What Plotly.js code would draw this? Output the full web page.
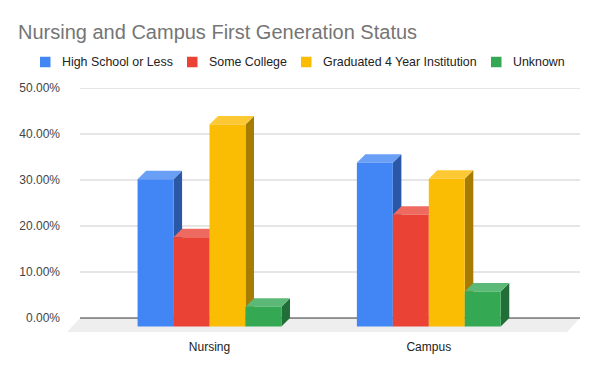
<!DOCTYPE html>
<html>
<head>
<meta charset="utf-8">
<script src="https://cdn.plot.ly/plotly-3.0.1.min.js"></script>
<style>html,body{margin:0;padding:0;background:#fff;}#chart{width:600px;height:371px;}</style>
</head>
<body>
<div id="chart"></div>
<script>
// ---- data ----
const categories = ['Nursing', 'Campus'];
const seriesNames = ['High School or Less', 'Some College', 'Graduated 4 Year Institution', 'Unknown'];
const highSchoolOrLess = [32.0, 35.6];
const someCollege = [19.4, 24.3];
const graduated4Year = [43.9, 32.1];
const unknown = [4.3, 7.6];
const yTickVals = [0, 10, 20, 30, 40, 50];
const yTickText = ['0.00%', '10.00%', '20.00%', '30.00%', '40.00%', '50.00%'];

// ---- styles ----
const frontColors = ['#4285f4', '#ea4335', '#fbbc04', '#34a853'];
const topColors   = ['#6a9ff6', '#ee6a60', '#fcc934', '#5cb876'];
const sideColors  = ['#2b58a6', '#a5302a', '#a67c03', '#226e39'];

const seriesValues = [highSchoolOrLess, someCollege, graduated4Year, unknown];

const W = 600, H = 371;
const M = {l: 67, r: 20, t: 88, b: 39};
const plotW = W - M.l - M.r, plotH = H - M.t - M.b;
const pxToPaperX = px => (px - M.l) / plotW;
const pxToPaperY = py => (H - M.b - py) / plotH;

const barW = 0.164;      // width of one bar face (x units)
const depthX = 0.039;    // 3D depth in x units
const depthY = 1.85;     // 3D depth in y units
const xMin = -0.6498, xMax = 1.6895;
const yMin = -3.04, yMax = 50;
const floorShift = 0.0593;
const backLeft = xMin + floorShift;

const traces = [];
function poly(xs, ys, color, name) {
  traces.push({type: 'scatter', mode: 'lines', x: xs, y: ys, fill: 'toself', name: name,
    fillcolor: color, line: {width: 0, color: color}, showlegend: false, hoverinfo: 'skip'});
}

categories.forEach((c, g) => {
  seriesValues.forEach((vals, s) => {
    const v = vals[g];
    const x0 = g - 2 * barW + s * barW;
    const x1 = x0 + barW;
    const yb = -depthY, yt = v - depthY;
    poly([x1, x1 + depthX, x1 + depthX, x1, x1], [yb, 0, v, yt, yb], sideColors[s], seriesNames[s]);
    poly([x0, x1, x1 + depthX, x0 + depthX, x0], [yt, yt, v, v, yt], topColors[s], seriesNames[s]);
    poly([x0, x1, x1, x0, x0], [yb, yb, yt, yt, yb], frontColors[s], seriesNames[s]);
  });
});

const shapes = [];
// floor
shapes.push({type: 'path', xref: 'x', yref: 'y', layer: 'below',
  path: `M${backLeft},0 L${xMax},0 L${xMax - floorShift},${yMin} L${backLeft - floorShift},${yMin} Z`,
  fillcolor: '#eeeeee', line: {width: 0}});
// gridlines on back wall
yTickVals.forEach(t => {
  shapes.push({type: 'line', xref: 'x', yref: 'y', layer: 'below',
    x0: backLeft, x1: xMax, y0: t, y1: t,
    line: {color: t === 0 ? '#333333' : '#cccccc', width: 1}});
});

// legend (drawn as swatches + text, laid out like the original single row)
const legendSwatchX = [40, 187, 301, 491];
const legendY = 62, swatch = 10.5, textGap = 10.5;
const annotations = [];
seriesNames.forEach((n, s) => {
  const x0 = legendSwatchX[s];
  shapes.push({type: 'rect', xref: 'paper', yref: 'paper',
    x0: pxToPaperX(x0), x1: pxToPaperX(x0 + swatch),
    y0: pxToPaperY(legendY - swatch / 2), y1: pxToPaperY(legendY + swatch / 2),
    fillcolor: frontColors[s], line: {width: 0}});
  annotations.push({xref: 'paper', yref: 'paper', x: pxToPaperX(x0 + swatch + textGap - 1),
    y: pxToPaperY(legendY), xanchor: 'left', yanchor: 'middle', showarrow: false,
    text: n, font: {size: 12.4, color: '#222222', family: 'Liberation Sans, Arial, sans-serif'}});
});

const layout = {
  width: W, height: H,
  margin: M,
  paper_bgcolor: '#ffffff', plot_bgcolor: '#ffffff',
  font: {family: 'Liberation Sans, Arial, sans-serif', color: '#222222'},
  title: {text: 'Nursing and Campus First Generation Status',
    font: {family: 'Liberation Sans, Arial, sans-serif', size: 20, color: '#757575'},
    x: 0.03, xref: 'container', xanchor: 'left', y: 0.915, yref: 'container', yanchor: 'middle'},
  showlegend: false,
  xaxis: {range: [xMin, xMax], tickvals: [0, 1], ticktext: categories, showgrid: false,
    zeroline: false, showline: false, ticks: '', ticklabelstandoff: 6,
    tickfont: {size: 12, color: '#222222'}, fixedrange: true},
  yaxis: {range: [yMin, yMax], tickvals: yTickVals, ticktext: yTickText, showgrid: false,
    zeroline: false, showline: false, ticks: '', ticklabelstandoff: 6,
    tickfont: {size: 12, color: '#444444'}, fixedrange: true},
  shapes: shapes,
  annotations: annotations
};

Plotly.newPlot('chart', traces, layout, {displayModeBar: false, staticPlot: true});
</script>
</body>
</html>
